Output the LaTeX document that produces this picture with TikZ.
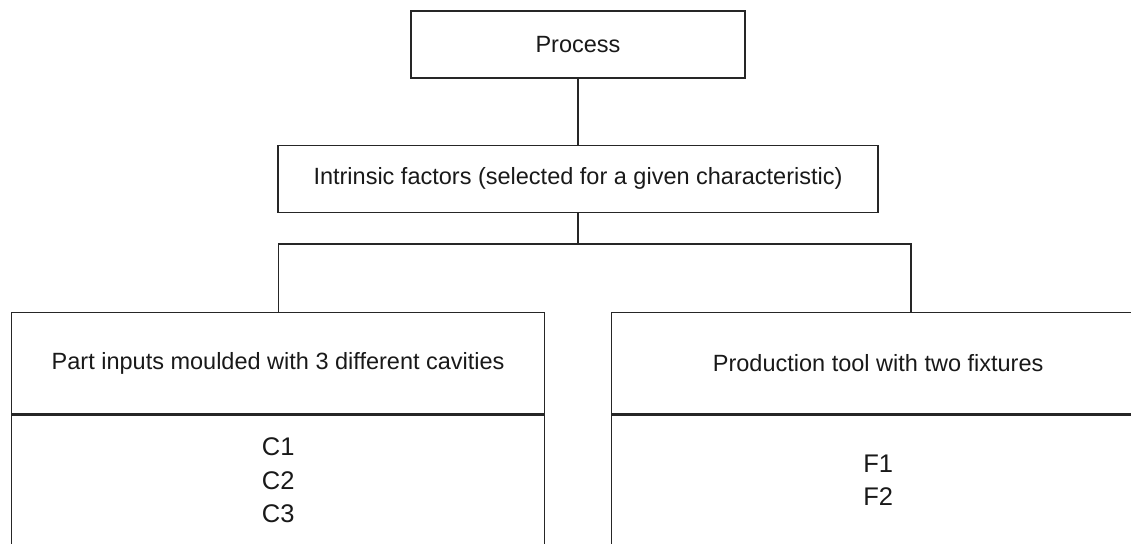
\documentclass[tikz,border=0pt]{standalone}
\usepackage{fontspec}
\setmainfont{Liberation Sans}
\usetikzlibrary{positioning}

\begin{document}
\begin{tikzpicture}[x=1pt, y=1pt, line width=1.3pt, draw=black!85,
                    main node/.style={rectangle,draw,inner sep=0pt,text=black!90,font=\fontsize{23.5}{28}\selectfont},
                    list node/.style={main node,align=center,font=\fontsize{25.5}{33.5}\selectfont}]

  \useasboundingbox (0,0) rectangle (1131,-543);
  \clip (0,0) rectangle (1131,-543);

  \node[main node,minimum width=334,minimum height=67] (process) at (578,-44.5) {Process};
  \node[main node,minimum width=600,minimum height=67] (intrinsic) [below=66 of process]
       {Intrinsic factors (selected for a given characteristic)};
  \coordinate (fork) at (578,-244);

  \node[main node,minimum width=533,minimum height=101,anchor=north west] (parts) at (11,-312)
       {Part inputs moulded with 3 different cavities};
  \node[list node,minimum width=533,minimum height=131] (cavities) [below=0 of parts] {C1\\C2\\C3};
  \node[main node,minimum width=533,minimum height=101,anchor=north west] (tool) at (611,-312)
       {Production tool with two fixtures};
  \node[list node,minimum width=533,minimum height=131] (fixtures) [below=0 of tool] {F1\\F2};
  \coordinate (tooltop) at ([xshift=300]tool.north west);

\path[draw]
    (process) -- (intrinsic)
    (intrinsic) -- (fork)
    (parts.north) |- (fork) -| (tooltop);

\end{tikzpicture}
\end{document}
